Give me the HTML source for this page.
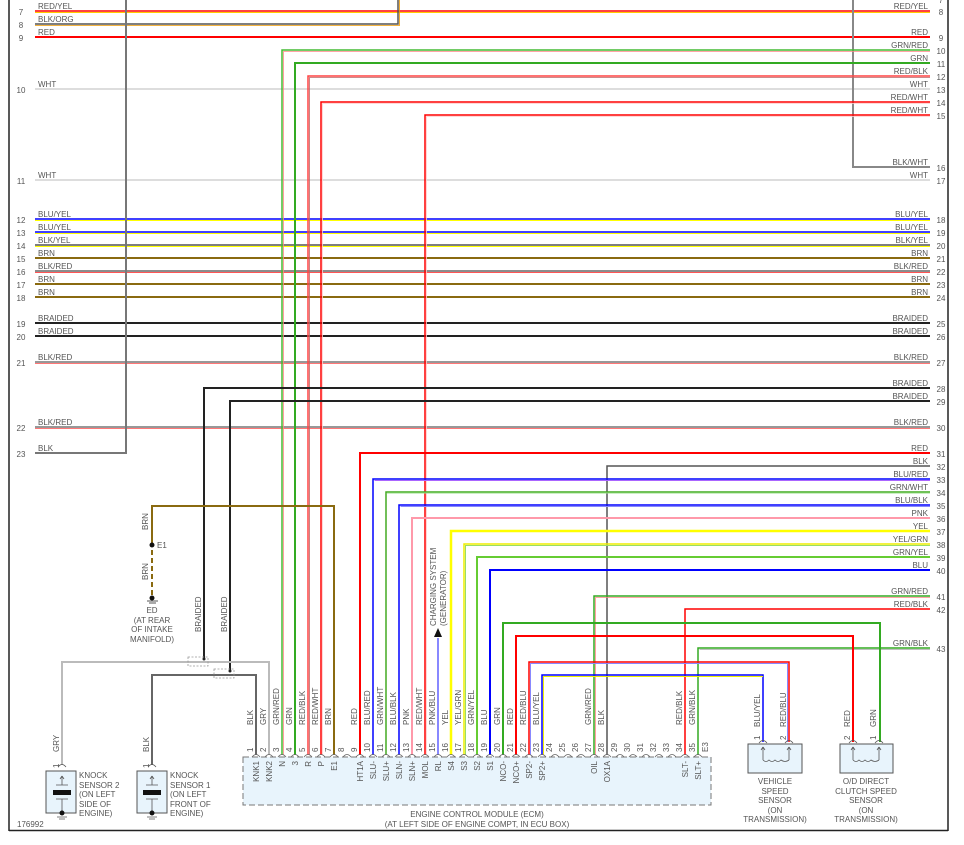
<!DOCTYPE html>
<html><head><meta charset="utf-8">
<style>
html,body{margin:0;padding:0;background:#fff;}
svg{display:block;}
text{font-family:"Liberation Sans",Arial,sans-serif;font-size:8px;fill:#555;}
.n{font-size:8px;fill:#555;}
</style></head><body>
<svg width="964" height="845" viewBox="0 0 964 845" xmlns="http://www.w3.org/2000/svg">
<rect x="0" y="0" width="964" height="845" fill="#fff"/>
<!-- frame -->
<line x1="9" y1="0" x2="9" y2="831" stroke="#222" stroke-width="1.5"/>
<line x1="948" y1="0" x2="948" y2="831" stroke="#222" stroke-width="1.5"/>
<line x1="9" y1="830.5" x2="948" y2="830.5" stroke="#222" stroke-width="1.5"/>

<g fill="none" stroke-linejoin="miter">
<!-- full-width rows -->
<line x1="35" y1="11" x2="930" y2="11" stroke="#f00" stroke-width="1.5"/><line x1="35" y1="12.5" x2="930" y2="12.5" stroke="#fc0" stroke-width="1"/>
<line x1="35" y1="37" x2="930" y2="37" stroke="#f00" stroke-width="2"/>
<line x1="35" y1="89" x2="930" y2="89" stroke="#ddd" stroke-width="2"/>
<line x1="35" y1="180" x2="930" y2="180" stroke="#ddd" stroke-width="2"/>
<line x1="35" y1="219" x2="930" y2="219" stroke="#00f" stroke-width="1.5"/><line x1="35" y1="220.5" x2="930" y2="220.5" stroke="#ff0" stroke-width="1"/>
<line x1="35" y1="232" x2="930" y2="232" stroke="#00f" stroke-width="1.5"/><line x1="35" y1="233.5" x2="930" y2="233.5" stroke="#ff0" stroke-width="1"/>
<line x1="35" y1="245" x2="930" y2="245" stroke="#555" stroke-width="1.5"/><line x1="35" y1="246.5" x2="930" y2="246.5" stroke="#ff0" stroke-width="1"/>
<line x1="35" y1="258" x2="930" y2="258" stroke="#8a6a10" stroke-width="2"/>
<line x1="35" y1="271" x2="930" y2="271" stroke="#666" stroke-width="1.5"/><line x1="35" y1="272.5" x2="930" y2="272.5" stroke="#f55" stroke-width="1"/>
<line x1="35" y1="284" x2="930" y2="284" stroke="#8a6a10" stroke-width="2"/>
<line x1="35" y1="297" x2="930" y2="297" stroke="#8a6a10" stroke-width="2"/>
<line x1="35" y1="323" x2="930" y2="323" stroke="#222" stroke-width="2"/>
<line x1="35" y1="336" x2="930" y2="336" stroke="#222" stroke-width="2"/>
<line x1="35" y1="362" x2="930" y2="362" stroke="#777" stroke-width="1.5"/><line x1="35" y1="363.5" x2="930" y2="363.5" stroke="#f77" stroke-width="1"/>
<line x1="35" y1="427" x2="930" y2="427" stroke="#777" stroke-width="1.5"/><line x1="35" y1="428.5" x2="930" y2="428.5" stroke="#f77" stroke-width="1"/>
<!-- left-only -->
<polyline points="35,24 398,24 398,0" stroke="#555" stroke-width="1.5"/><polyline points="35,25.5 399.5,25.5 399.5,0" stroke="#e90" stroke-width="0.8"/>
<polyline points="35,453 126,453 126,0" stroke="#777" stroke-width="2"/>
<polyline points="930,167 853,167 853,0" stroke="#888" stroke-width="2"/>
<!-- to ECM from top -->
<polyline points="930,50 282,50 282,755" stroke="#4b3" stroke-width="1.5"/><polyline points="930,51.5 283.5,51.5 283.5,755" stroke="#f88" stroke-width="0.8"/>
<polyline points="930,63 295,63 295,755" stroke="#3a2" stroke-width="2"/>
<polyline points="930,76 308,76 308,755" stroke="#f44" stroke-width="1.5"/><polyline points="930,77.5 309.5,77.5 309.5,755" stroke="#b66" stroke-width="0.8"/>
<polyline points="930,102 321,102 321,755" stroke="#f00" stroke-width="1.5"/><polyline points="930,103.5 322.5,103.5 322.5,755" stroke="#fcc" stroke-width="0.8"/>
<polyline points="930,115 425,115 425,755" stroke="#f00" stroke-width="1.5"/><polyline points="930,116.5 426.5,116.5 426.5,755" stroke="#fcc" stroke-width="0.8"/>
<!-- braided -->
<polyline points="930,388 204,388 204,660" stroke="#222" stroke-width="2"/>
<polyline points="930,401 230,401 230,672" stroke="#222" stroke-width="2"/>
<!-- lower right group -->
<polyline points="930,453 360,453 360,755" stroke="#f00" stroke-width="2"/>
<polyline points="930,466 607,466 607,755" stroke="#555" stroke-width="1.5"/>
<polyline points="930,479 373,479 373,755" stroke="#00f" stroke-width="1.5"/><polyline points="930,480.5 374.5,480.5" stroke="#a6f" stroke-width="1"/>
<polyline points="930,492 386,492 386,755" stroke="#4a2" stroke-width="1.5"/><polyline points="930,493 387,493" stroke="#9d8" stroke-width="1"/>
<polyline points="930,505 399,505 399,755" stroke="#00f" stroke-width="1.5"/><polyline points="930,506.5 400.5,506.5" stroke="#88f" stroke-width="1"/>
<polyline points="930,518 412,518 412,755" stroke="#f9a" stroke-width="2"/>
<polyline points="930,531 451,531 451,755" stroke="#ff0" stroke-width="2.5"/>
<polyline points="930,544 464,544 464,755" stroke="#ee0" stroke-width="1.5"/><polyline points="930,545.5 465.5,545.5 465.5,755" stroke="#9d6" stroke-width="1"/>
<polyline points="930,557 477,557 477,755" stroke="#6c3" stroke-width="2"/>
<polyline points="930,570 490,570 490,755" stroke="#00f" stroke-width="2"/>
<polyline points="930,596 594,596 594,755" stroke="#3a2" stroke-width="1.5"/><polyline points="930,597.5 595.5,597.5 595.5,755" stroke="#f88" stroke-width="0.8"/>
<polyline points="930,609 685,609 685,755" stroke="#f00" stroke-width="1.5"/>
<polyline points="930,648 698,648 698,755" stroke="#3a2" stroke-width="1.5"/><polyline points="930,649.5 699.5,649.5" stroke="#aaa" stroke-width="0.8"/>
<!-- internal to sensors -->
<polyline points="503,755 503,623 880,623 880,742" stroke="#3a2" stroke-width="2"/>
<polyline points="516,755 516,636 853,636 853,742" stroke="#f00" stroke-width="2"/>
<polyline points="529,755 529,662 789,662 789,742" stroke="#f00" stroke-width="1.5"/><polyline points="530.5,755 530.5,663.5 787.5,663.5 787.5,742" stroke="#88f" stroke-width="1"/>
<polyline points="542,755 542,675 763,675 763,742" stroke="#00f" stroke-width="1.5"/><polyline points="543.5,755 543.5,676.5 763,676.5" stroke="#ee0" stroke-width="1"/>
<!-- charging -->
<line x1="438" y1="638" x2="438" y2="755" stroke="#88f" stroke-width="2"/>
<!-- brown E1 -->
<polyline points="334,755 334,506 152,506 152,545" stroke="#8a6a10" stroke-width="2"/>
<line x1="152" y1="550" x2="152" y2="595" stroke="#8a6a10" stroke-width="2" stroke-dasharray="5,3"/>
<!-- knock sensors -->
<polyline points="62,765 62,662 269,662 269,755" stroke="#bbb" stroke-width="2"/>
<polyline points="152,765 152,675 256,675 256,755" stroke="#666" stroke-width="2"/>
</g>

<!-- braided connector marks -->
<g fill="none" stroke="#999" stroke-width="0.8" stroke-dasharray="2,1.5">
<rect x="188" y="657" width="20" height="9"/><rect x="214" y="669" width="20" height="9"/>
</g>
<circle cx="204" cy="659" r="1.5" fill="#222"/><circle cx="230" cy="671" r="1.5" fill="#222"/>

<!-- E1 / ED -->
<circle cx="152" cy="545" r="2.5" fill="#111"/><text x="157" y="548">E1</text>
<circle cx="152" cy="598" r="2.5" fill="#111"/>
<line x1="147" y1="601" x2="158" y2="601" stroke="#555"/><line x1="149" y1="603" x2="156" y2="603" stroke="#555"/>
<g text-anchor="middle"><text x="152" y="613">ED</text><text x="152" y="623">(AT REAR</text><text x="152" y="632">OF INTAKE</text><text x="152" y="642">MANIFOLD)</text></g>
<text transform="translate(148,530) rotate(-90)">BRN</text>
<text transform="translate(148,580) rotate(-90)">BRN</text>
<text transform="translate(201,632) rotate(-90)">BRAIDED</text>
<text transform="translate(227,632) rotate(-90)">BRAIDED</text>

<!-- charging arrow -->
<polygon points="438,628 434,637 442,637" fill="#111"/>
<text transform="translate(436,626) rotate(-90)">CHARGING SYSTEM</text>
<text transform="translate(446,626) rotate(-90)">(GENERATOR)</text>

<!-- row labels left -->
<g>
<text x="38" y="9">RED/YEL</text><text x="38" y="22">BLK/ORG</text><text x="38" y="35">RED</text>
<text x="38" y="87">WHT</text><text x="38" y="178">WHT</text>
<text x="38" y="217">BLU/YEL</text><text x="38" y="230">BLU/YEL</text><text x="38" y="243">BLK/YEL</text>
<text x="38" y="256">BRN</text><text x="38" y="269">BLK/RED</text><text x="38" y="282">BRN</text><text x="38" y="295">BRN</text>
<text x="38" y="321">BRAIDED</text><text x="38" y="334">BRAIDED</text><text x="38" y="360">BLK/RED</text>
<text x="38" y="425">BLK/RED</text><text x="38" y="451">BLK</text>
</g>
<g text-anchor="middle">
<text x="21" y="15">7</text><text x="21" y="28">8</text><text x="21" y="41">9</text><text x="21" y="93">10</text><text x="21" y="184">11</text>
<text x="21" y="223">12</text><text x="21" y="236">13</text><text x="21" y="249">14</text><text x="21" y="262">15</text><text x="21" y="275">16</text><text x="21" y="288">17</text><text x="21" y="301">18</text>
<text x="21" y="327">19</text><text x="21" y="340">20</text><text x="21" y="366">21</text><text x="21" y="431">22</text><text x="21" y="457">23</text>
</g>
<!-- row labels right -->
<g text-anchor="end">
<text x="928" y="9">RED/YEL</text><text x="928" y="35">RED</text><text x="928" y="48">GRN/RED</text><text x="928" y="61">GRN</text>
<text x="928" y="74">RED/BLK</text><text x="928" y="87">WHT</text><text x="928" y="100">RED/WHT</text><text x="928" y="113">RED/WHT</text>
<text x="928" y="165">BLK/WHT</text><text x="928" y="178">WHT</text>
<text x="928" y="217">BLU/YEL</text><text x="928" y="230">BLU/YEL</text><text x="928" y="243">BLK/YEL</text><text x="928" y="256">BRN</text>
<text x="928" y="269">BLK/RED</text><text x="928" y="282">BRN</text><text x="928" y="295">BRN</text>
<text x="928" y="321">BRAIDED</text><text x="928" y="334">BRAIDED</text><text x="928" y="360">BLK/RED</text>
<text x="928" y="386">BRAIDED</text><text x="928" y="399">BRAIDED</text><text x="928" y="425">BLK/RED</text>
<text x="928" y="451">RED</text><text x="928" y="464">BLK</text><text x="928" y="477">BLU/RED</text><text x="928" y="490">GRN/WHT</text>
<text x="928" y="503">BLU/BLK</text><text x="928" y="516">PNK</text><text x="928" y="529">YEL</text><text x="928" y="542">YEL/GRN</text>
<text x="928" y="555">GRN/YEL</text><text x="928" y="568">BLU</text><text x="928" y="594">GRN/RED</text><text x="928" y="607">RED/BLK</text>
<text x="928" y="646">GRN/BLK</text>
</g>
<g text-anchor="middle">
<text x="941" y="3">7</text><text x="941" y="15">8</text><text x="941" y="41">9</text><text x="941" y="54">10</text><text x="941" y="67">11</text><text x="941" y="80">12</text>
<text x="941" y="93">13</text><text x="941" y="106">14</text><text x="941" y="119">15</text><text x="941" y="171">16</text><text x="941" y="184">17</text>
<text x="941" y="223">18</text><text x="941" y="236">19</text><text x="941" y="249">20</text><text x="941" y="262">21</text><text x="941" y="275">22</text><text x="941" y="288">23</text><text x="941" y="301">24</text>
<text x="941" y="327">25</text><text x="941" y="340">26</text><text x="941" y="366">27</text><text x="941" y="392">28</text><text x="941" y="405">29</text><text x="941" y="431">30</text>
<text x="941" y="457">31</text><text x="941" y="470">32</text><text x="941" y="483">33</text><text x="941" y="496">34</text><text x="941" y="509">35</text><text x="941" y="522">36</text>
<text x="941" y="535">37</text><text x="941" y="548">38</text><text x="941" y="561">39</text><text x="941" y="574">40</text><text x="941" y="600">41</text><text x="941" y="613">42</text><text x="941" y="652">43</text>
</g>

<!-- ECM box -->
<rect x="243" y="757" width="468" height="48" fill="#e8f4fc" stroke="#777" stroke-width="1" stroke-dasharray="6,3"/>
<g text-anchor="middle"><text x="477" y="817">ENGINE CONTROL MODULE (ECM)</text><text x="477" y="827">(AT LEFT SIDE OF ENGINE COMPT, IN ECU BOX)</text></g>
<text x="17" y="827">176992</text>
<!-- pin arcs -->
<g fill="none" stroke="#666" stroke-width="0.8">
<path d="M252,757 q4,-5 8,0 M265,757 q4,-5 8,0 M278,757 q4,-5 8,0 M291,757 q4,-5 8,0 M304,757 q4,-5 8,0 M317,757 q4,-5 8,0 M330,757 q4,-5 8,0 M343,757 q4,-5 8,0 M356,757 q4,-5 8,0 M369,757 q4,-5 8,0 M382,757 q4,-5 8,0 M395,757 q4,-5 8,0 M408,757 q4,-5 8,0 M421,757 q4,-5 8,0 M434,757 q4,-5 8,0 M447,757 q4,-5 8,0 M460,757 q4,-5 8,0 M473,757 q4,-5 8,0 M486,757 q4,-5 8,0 M499,757 q4,-5 8,0 M512,757 q4,-5 8,0 M525,757 q4,-5 8,0 M538,757 q4,-5 8,0 M551,757 q4,-5 8,0 M564,757 q4,-5 8,0 M577,757 q4,-5 8,0 M590,757 q4,-5 8,0 M603,757 q4,-5 8,0 M616,757 q4,-5 8,0 M629,757 q4,-5 8,0 M642,757 q4,-5 8,0 M655,757 q4,-5 8,0 M668,757 q4,-5 8,0 M681,757 q4,-5 8,0 M694,757 q4,-5 8,0"/>
</g>
<!-- pin numbers -->
<g class="n">
<text transform="translate(253,752) rotate(-90)">1</text><text transform="translate(266,752) rotate(-90)">2</text><text transform="translate(279,752) rotate(-90)">3</text><text transform="translate(292,752) rotate(-90)">4</text>
<text transform="translate(305,752) rotate(-90)">5</text><text transform="translate(318,752) rotate(-90)">6</text><text transform="translate(331,752) rotate(-90)">7</text><text transform="translate(344,752) rotate(-90)">8</text>
<text transform="translate(357,752) rotate(-90)">9</text><text transform="translate(370,752) rotate(-90)">10</text><text transform="translate(383,752) rotate(-90)">11</text><text transform="translate(396,752) rotate(-90)">12</text>
<text transform="translate(409,752) rotate(-90)">13</text><text transform="translate(422,752) rotate(-90)">14</text><text transform="translate(435,752) rotate(-90)">15</text><text transform="translate(448,752) rotate(-90)">16</text>
<text transform="translate(461,752) rotate(-90)">17</text><text transform="translate(474,752) rotate(-90)">18</text><text transform="translate(487,752) rotate(-90)">19</text><text transform="translate(500,752) rotate(-90)">20</text>
<text transform="translate(513,752) rotate(-90)">21</text><text transform="translate(526,752) rotate(-90)">22</text><text transform="translate(539,752) rotate(-90)">23</text><text transform="translate(552,752) rotate(-90)">24</text>
<text transform="translate(565,752) rotate(-90)">25</text><text transform="translate(578,752) rotate(-90)">26</text><text transform="translate(591,752) rotate(-90)">27</text><text transform="translate(604,752) rotate(-90)">28</text>
<text transform="translate(617,752) rotate(-90)">29</text><text transform="translate(630,752) rotate(-90)">30</text><text transform="translate(643,752) rotate(-90)">31</text><text transform="translate(656,752) rotate(-90)">32</text>
<text transform="translate(669,752) rotate(-90)">33</text><text transform="translate(682,752) rotate(-90)">34</text><text transform="translate(695,752) rotate(-90)">35</text><text transform="translate(708,752) rotate(-90)">E3</text>
</g>
<!-- pin names inside box -->
<g text-anchor="end">
<text transform="translate(259,761) rotate(-90)">KNK1</text><text transform="translate(272,761) rotate(-90)">KNK2</text><text transform="translate(285,761) rotate(-90)">N</text><text transform="translate(298,761) rotate(-90)">3</text>
<text transform="translate(311,761) rotate(-90)">R</text><text transform="translate(324,761) rotate(-90)">P</text><text transform="translate(337,761) rotate(-90)">E1</text>
<text transform="translate(363,761) rotate(-90)">HT1A</text><text transform="translate(376,761) rotate(-90)">SLU-</text><text transform="translate(389,761) rotate(-90)">SLU+</text><text transform="translate(402,761) rotate(-90)">SLN-</text>
<text transform="translate(415,761) rotate(-90)">SLN+</text><text transform="translate(428,761) rotate(-90)">MOL</text><text transform="translate(441,761) rotate(-90)">RL</text><text transform="translate(454,761) rotate(-90)">S4</text>
<text transform="translate(467,761) rotate(-90)">S3</text><text transform="translate(480,761) rotate(-90)">S2</text><text transform="translate(493,761) rotate(-90)">S1</text><text transform="translate(506,761) rotate(-90)">NCO-</text>
<text transform="translate(519,761) rotate(-90)">NCO+</text><text transform="translate(532,761) rotate(-90)">SP2-</text><text transform="translate(545,761) rotate(-90)">SP2+</text>
<text transform="translate(597,761) rotate(-90)">OIL</text><text transform="translate(610,761) rotate(-90)">OX1A</text><text transform="translate(688,761) rotate(-90)">SLT-</text><text transform="translate(701,761) rotate(-90)">SLT+</text>
</g>
<!-- wire labels above ECM -->
<g>
<text transform="translate(253,725) rotate(-90)">BLK</text><text transform="translate(266,725) rotate(-90)">GRY</text><text transform="translate(279,725) rotate(-90)">GRN/RED</text><text transform="translate(292,725) rotate(-90)">GRN</text>
<text transform="translate(305,725) rotate(-90)">RED/BLK</text><text transform="translate(318,725) rotate(-90)">RED/WHT</text><text transform="translate(331,725) rotate(-90)">BRN</text>
<text transform="translate(357,725) rotate(-90)">RED</text><text transform="translate(370,725) rotate(-90)">BLU/RED</text><text transform="translate(383,725) rotate(-90)">GRN/WHT</text><text transform="translate(396,725) rotate(-90)">BLU/BLK</text>
<text transform="translate(409,725) rotate(-90)">PNK</text><text transform="translate(422,725) rotate(-90)">RED/WHT</text><text transform="translate(435,725) rotate(-90)">PNK/BLU</text><text transform="translate(448,725) rotate(-90)">YEL</text>
<text transform="translate(461,725) rotate(-90)">YEL/GRN</text><text transform="translate(474,725) rotate(-90)">GRN/YEL</text><text transform="translate(487,725) rotate(-90)">BLU</text><text transform="translate(500,725) rotate(-90)">GRN</text>
<text transform="translate(513,725) rotate(-90)">RED</text><text transform="translate(526,725) rotate(-90)">RED/BLU</text><text transform="translate(539,725) rotate(-90)">BLU/YEL</text>
<text transform="translate(591,725) rotate(-90)">GRN/RED</text><text transform="translate(604,725) rotate(-90)">BLK</text><text transform="translate(682,725) rotate(-90)">RED/BLK</text><text transform="translate(695,725) rotate(-90)">GRN/BLK</text>
<text transform="translate(59,752) rotate(-90)">GRY</text><text transform="translate(149,752) rotate(-90)">BLK</text>
<text transform="translate(59,768) rotate(-90)">1</text><text transform="translate(149,768) rotate(-90)">1</text>
</g>

<!-- knock sensors -->
<g>
<rect x="46" y="771" width="30" height="42" fill="#e8f4fc" stroke="#555"/>
<rect x="137" y="771" width="30" height="42" fill="#e8f4fc" stroke="#555"/>
<path d="M58,767 q4,-5 8,0 M148,767 q4,-5 8,0" fill="none" stroke="#555" stroke-width="0.8"/>
<g stroke="#555" stroke-width="0.8" fill="none">
<path d="M62,776 l-2,3 M62,776 l2,3 M62,776 v9 M56,785 h12 M56,799 h12 M62,799 v12"/>
<path d="M152,776 l-2,3 M152,776 l2,3 M152,776 v9 M146,785 h12 M146,799 h12 M152,799 v12"/>
<path d="M57,817 h10 M59,819 h6 M147,817 h10 M149,819 h6"/>
</g>
<rect x="53" y="790" width="18" height="5" fill="#111"/><rect x="143" y="790" width="18" height="5" fill="#111"/>
<circle cx="62" cy="813" r="2.5" fill="#111"/><circle cx="152" cy="813" r="2.5" fill="#111"/>
<text x="79" y="778">KNOCK</text><text x="79" y="788">SENSOR 2</text><text x="79" y="797">(ON LEFT</text><text x="79" y="807">SIDE OF</text><text x="79" y="816">ENGINE)</text>
<text x="170" y="778">KNOCK</text><text x="170" y="788">SENSOR 1</text><text x="170" y="797">(ON LEFT</text><text x="170" y="807">FRONT OF</text><text x="170" y="816">ENGINE)</text>
</g>

<!-- speed sensors -->
<rect x="748" y="744" width="54" height="29" fill="#e8f4fc" stroke="#555"/>
<rect x="840" y="744" width="53" height="29" fill="#e8f4fc" stroke="#555"/>
<g fill="none" stroke="#555" stroke-width="0.8">
<path d="M759,743 q4,-5 8,0 M785,743 q4,-5 8,0 M849,743 q4,-5 8,0 M875,743 q4,-5 8,0"/>
<path d="M763,747 l-2,3 M763,747 l2,3 M763,747 v13 M789,747 l-2,3 M789,747 l2,3 M789,747 v13 M763,760 q3,3 6,0 q3,3 6,0 q3,3 6,0 q4,3 8,0"/>
<path d="M853,747 l-2,3 M853,747 l2,3 M853,747 v13 M879,747 l-2,3 M879,747 l2,3 M879,747 v13 M853,760 q3,3 6,0 q3,3 6,0 q3,3 6,0 q4,3 8,0"/>
</g>
<g>
<text transform="translate(760,727) rotate(-90)">BLU/YEL</text><text transform="translate(786,727) rotate(-90)">RED/BLU</text>
<text transform="translate(850,727) rotate(-90)">RED</text><text transform="translate(876,727) rotate(-90)">GRN</text>
<text transform="translate(760,740) rotate(-90)">1</text><text transform="translate(786,740) rotate(-90)">2</text>
<text transform="translate(850,740) rotate(-90)">2</text><text transform="translate(876,740) rotate(-90)">1</text>
</g>
<g text-anchor="middle">
<text x="775" y="784">VEHICLE</text><text x="775" y="794">SPEED</text><text x="775" y="803">SENSOR</text><text x="775" y="813">(ON</text><text x="775" y="822">TRANSMISSION)</text>
<text x="866" y="784">O/D DIRECT</text><text x="866" y="794">CLUTCH SPEED</text><text x="866" y="803">SENSOR</text><text x="866" y="813">(ON</text><text x="866" y="822">TRANSMISSION)</text>
</g>
</svg>
</body></html>
